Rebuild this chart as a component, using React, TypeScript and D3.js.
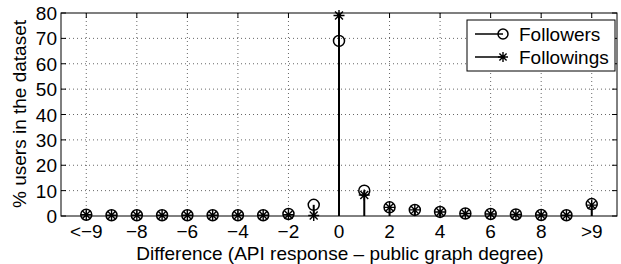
import React, { useRef, useEffect } from 'react';
import * as d3 from 'd3';

const positions = [-10, -9, -8, -7, -6, -5, -4, -3, -2, -1, 0, 1, 2, 3, 4, 5, 6, 7, 8, 9, 10];
const followers = [0.5, 0.3, 0.3, 0.3, 0.3, 0.3, 0.3, 0.3, 0.8, 4.4, 69, 10, 3.4, 2.4, 1.6, 1, 0.8, 0.6, 0.4, 0.3, 4.7];
const followings = [0.5, 0.3, 0.3, 0.3, 0.3, 0.3, 0.3, 0.3, 0.5, 0.2, 79, 8.3, 3.4, 2.4, 1.6, 1, 0.8, 0.6, 0.4, 0.3, 4.3];
const xTicks = [-10, -8, -6, -4, -2, 0, 2, 4, 6, 8, 10];
const xTickLabels = ['<−9', '−8', '−6', '−4', '−2', '0', '2', '4', '6', '8', '>9'];
const yTicks = [0, 10, 20, 30, 40, 50, 60, 70, 80];

const font = 'Liberation Sans, Arial, sans-serif';
const fs = 19;

const App = () => {
  const ref = useRef<SVGSVGElement>(null);

  useEffect(() => {
    const svg = d3.select(ref.current);
    svg.selectAll('*').remove();

    const left = 61, right = 617, top = 13, bottom = 216;
    const x = d3.scaleLinear().domain([-11, 11]).range([left, right]);
    const y = d3.scaleLinear().domain([0, 80]).range([bottom, top]);

    // grid
    const grid = svg.append('g').attr('stroke', '#000').attr('stroke-width', 0.6).attr('stroke-dasharray', '1,3');
    xTicks.forEach((t) => {
      grid.append('line').attr('x1', x(t)).attr('x2', x(t)).attr('y1', top).attr('y2', bottom);
    });
    yTicks.slice(1, -1).forEach((t) => {
      grid.append('line').attr('x1', left).attr('x2', right).attr('y1', y(t)).attr('y2', y(t));
    });

    // tick marks
    const ticks = svg.append('g').attr('stroke', '#000').attr('stroke-width', 1);
    xTicks.forEach((t) => {
      ticks.append('line').attr('x1', x(t)).attr('x2', x(t)).attr('y1', bottom).attr('y2', bottom - 5);
      ticks.append('line').attr('x1', x(t)).attr('x2', x(t)).attr('y1', top).attr('y2', top + 5);
    });
    yTicks.forEach((t) => {
      ticks.append('line').attr('x1', left).attr('x2', left + 5).attr('y1', y(t)).attr('y2', y(t));
      ticks.append('line').attr('x1', right).attr('x2', right - 5).attr('y1', y(t)).attr('y2', y(t));
    });

    // frame
    svg.append('rect').attr('x', left).attr('y', top).attr('width', right - left).attr('height', bottom - top)
      .attr('fill', 'none').attr('stroke', '#000').attr('stroke-width', 1);

    // tick labels
    svg.append('g').selectAll('text').data(xTicks).enter().append('text')
      .attr('x', (d) => x(d)).attr('y', 238).attr('text-anchor', 'middle')
      .attr('font-family', font).attr('font-size', fs).text((d, i) => xTickLabels[i]);
    svg.append('g').selectAll('text').data(yTicks).enter().append('text')
      .attr('x', 57).attr('y', (d) => y(d) + 7).attr('text-anchor', 'end')
      .attr('font-family', font).attr('font-size', fs).text((d) => d);

    // axis titles
    svg.append('text').attr('x', 340).attr('y', 260).attr('text-anchor', 'middle')
      .attr('font-family', font).attr('font-size', fs).text('Difference (API response – public graph degree)');
    svg.append('text').attr('transform', `translate(26,114) rotate(-90)`)
      .attr('text-anchor', 'middle').attr('font-family', font).attr('font-size', fs).text('% users in the dataset');

    const star = (g, cx, cy, r) => {
      const d = r * 0.72;
      g.append('path')
        .attr('d', `M${cx - r},${cy}L${cx + r},${cy}M${cx},${cy - r}L${cx},${cy + r}M${cx - d},${cy - d}L${cx + d},${cy + d}M${cx - d},${cy + d}L${cx + d},${cy - d}`)
        .attr('stroke', '#000').attr('stroke-width', 1.4).attr('fill', 'none');
    };

    // stems
    const stems = svg.append('g').attr('stroke', '#000').attr('stroke-width', 2);
    positions.forEach((p, i) => {
      const v = Math.max(followers[i], followings[i]);
      stems.append('line').attr('x1', x(p)).attr('x2', x(p)).attr('y1', y(0)).attr('y2', y(v));
    });

    // markers
    const marks = svg.append('g');
    positions.forEach((p, i) => {
      marks.append('circle').attr('cx', x(p)).attr('cy', y(followers[i])).attr('r', 5.5)
        .attr('fill', 'none').attr('stroke', '#000').attr('stroke-width', 1.5);
      star(marks, x(p), y(followings[i]), 5.5);
    });

    // legend
    const lg = svg.append('g');
    lg.append('rect').attr('x', 467).attr('y', 20).attr('width', 148).attr('height', 51)
      .attr('fill', '#fff').attr('stroke', '#000').attr('stroke-width', 1);
    lg.append('line').attr('x1', 475).attr('x2', 503).attr('y1', 34).attr('y2', 34).attr('stroke', '#000').attr('stroke-width', 1.5);
    lg.append('circle').attr('cx', 503).attr('cy', 34).attr('r', 5).attr('fill', 'none').attr('stroke', '#000').attr('stroke-width', 1.5);
    lg.append('line').attr('x1', 475).attr('x2', 503).attr('y1', 57).attr('y2', 57).attr('stroke', '#000').attr('stroke-width', 1.5);
    star(lg, 503, 57, 5);
    lg.append('text').attr('x', 519).attr('y', 41).attr('font-family', font).attr('font-size', fs).text('Followers');
    lg.append('text').attr('x', 519).attr('y', 64).attr('font-family', font).attr('font-size', fs).text('Followings');
  }, []);

  return <svg ref={ref} width={621} height={264} style={{ position: 'absolute', left: 0, top: 0 }}></svg>;
};

export default App;
